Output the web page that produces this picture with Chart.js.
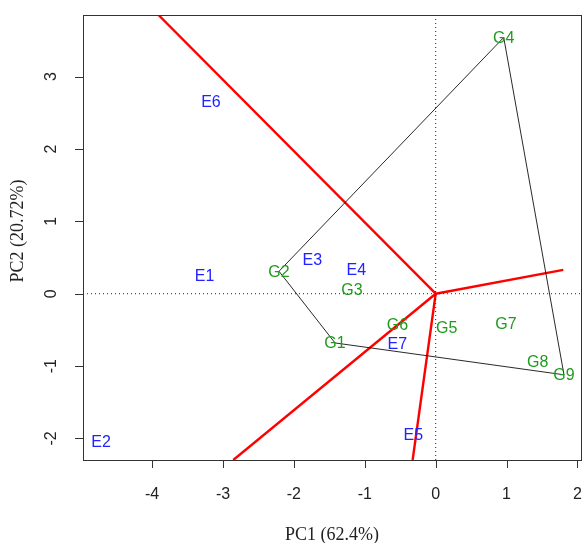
<!DOCTYPE html>
<html>
<head>
<meta charset="utf-8">
<script src="https://cdn.jsdelivr.net/npm/chart.js@4.4.1/dist/chart.umd.min.js"></script>
<style>
  html, body { margin: 0; padding: 0; background: #fff; }
  #wrap { width: 584px; height: 543px; position: relative; }
</style>
</head>
<body>
<div id="wrap"><canvas id="c" width="584" height="543"></canvas></div>
<script>
// ---- data ----
const genotypeNames = ["G1", "G2", "G3", "G4", "G5", "G6", "G7", "G8", "G9"];
const genotypeX = [-1.42, -2.21, -1.18, 0.96, 0.155, -0.54, 0.99, 1.44, 1.81];
const genotypeY = [-0.68, 0.31, 0.06, 3.54, -0.47, -0.42, -0.41, -0.94, -1.12];

const envNames = ["E1", "E2", "E3", "E4", "E5", "E6", "E7"];
const envX = [-3.26, -4.72, -1.74, -1.12, -0.315, -3.17, -0.54];
const envY = [0.245, -2.04, 0.465, 0.33, -1.94, 2.65, -0.695];

// convex hull (polygon) vertex order, by genotype name
const hullOrder = ["G4", "G9", "G1", "G2", "G4"];

// sector rays from the origin (end points)
const rayEndX = [-3.91, -2.855, -0.325, 1.80];
const rayEndY = [3.85, -2.297, -2.297, 0.33];

const xTicks = [-4, -3, -2, -1, 0, 1, 2];
const yTicks = [-2, -1, 0, 1, 2, 3];
const xRange = [-4.975, 2.05];
const yRange = [-2.297, 3.85];
const xTitle = "PC1 (62.4%)";
const yTitle = "PC2 (20.72%)";

// ---- build datasets ----
const hullData = hullOrder.map(n => {
  const i = genotypeNames.indexOf(n);
  return { x: genotypeX[i], y: genotypeY[i] };
});

const datasets = [];
// dotted reference lines
datasets.push({ data: [{x: xRange[0], y: 0}, {x: xRange[1], y: 0}], borderColor: '#222', borderWidth: 1, borderDash: [1, 3], pointRadius: 0, showLine: true });
datasets.push({ data: [{x: 0, y: yRange[0]}, {x: 0, y: yRange[1]}], borderColor: '#222', borderWidth: 1, borderDash: [1, 3], pointRadius: 0, showLine: true });
// polygon
datasets.push({ data: hullData, borderColor: '#111', borderWidth: 0.9, pointRadius: 0, showLine: true, tension: 0 });
// rays
rayEndX.forEach((rx, i) => {
  datasets.push({ data: [{x: 0, y: 0}, {x: rx, y: rayEndY[i]}], borderColor: '#ff0000', borderWidth: 2.4, pointRadius: 0, showLine: true });
});

// ---- plugin: frame, ticks, labels, titles ----
const biplotPlugin = {
  id: 'biplot',
  afterDatasetsDraw(chart) {
    const ctx = chart.ctx;
    const xs = chart.scales.x, ys = chart.scales.y;
    const a = chart.chartArea;
    ctx.save();
    // labels
    ctx.textAlign = 'center';
    ctx.textBaseline = 'middle';
    ctx.font = '16px "Liberation Sans", Arial, sans-serif';
    ctx.fillStyle = '#2222ff';
    envNames.forEach((n, i) => ctx.fillText(n, xs.getPixelForValue(envX[i]), ys.getPixelForValue(envY[i]) + 1));
    ctx.fillStyle = '#1f9a1f';
    genotypeNames.forEach((n, i) => ctx.fillText(n, xs.getPixelForValue(genotypeX[i]), ys.getPixelForValue(genotypeY[i]) + 1));
    ctx.restore();
  },
  afterDraw(chart) {
    const ctx = chart.ctx;
    const xs = chart.scales.x, ys = chart.scales.y;
    const a = chart.chartArea;
    ctx.save();
    // frame
    ctx.strokeStyle = '#333';
    ctx.lineWidth = 1;
    ctx.strokeRect(Math.round(a.left) + 0.5, Math.round(a.top) + 0.5, Math.round(a.right - a.left), Math.round(a.bottom - a.top));
    // ticks
    ctx.beginPath();
    xTicks.forEach(t => {
      const px = Math.round(xs.getPixelForValue(t)) + 0.5;
      ctx.moveTo(px, a.bottom); ctx.lineTo(px, a.bottom + 8);
    });
    yTicks.forEach(t => {
      const py = Math.round(ys.getPixelForValue(t)) + 0.5;
      ctx.moveTo(a.left, py); ctx.lineTo(a.left - 8, py);
    });
    ctx.stroke();
    // tick labels
    ctx.fillStyle = '#222';
    ctx.font = '16px "Liberation Sans", Arial, sans-serif';
    ctx.textAlign = 'center';
    ctx.textBaseline = 'middle';
    xTicks.forEach(t => ctx.fillText(String(t), xs.getPixelForValue(t), 495));
    yTicks.forEach(t => {
      ctx.save();
      ctx.translate(52, ys.getPixelForValue(t));
      ctx.rotate(-Math.PI / 2);
      ctx.fillText(String(t), 0, 0);
      ctx.restore();
    });
    // titles
    ctx.font = '18px "Liberation Serif", "Times New Roman", serif';
    ctx.fillText(xTitle, (a.left + a.right) / 2, 535);
    ctx.save();
    ctx.translate(18, 231);
    ctx.rotate(-Math.PI / 2);
    ctx.fillText(yTitle, 0, 0);
    ctx.restore();
    ctx.restore();
  }
};

new Chart(document.getElementById('c'), {
  type: 'scatter',
  data: { datasets },
  options: {
    responsive: false,
    animation: false,
    events: [],
    layout: { padding: { left: 83, top: 15, right: 3, bottom: 83 } },
    plugins: { legend: { display: false }, tooltip: { enabled: false } },
    scales: {
      x: { type: 'linear', min: xRange[0], max: xRange[1], display: false },
      y: { type: 'linear', min: yRange[0], max: yRange[1], display: false }
    }
  },
  plugins: [biplotPlugin]
});
</script>
</body>
</html>
